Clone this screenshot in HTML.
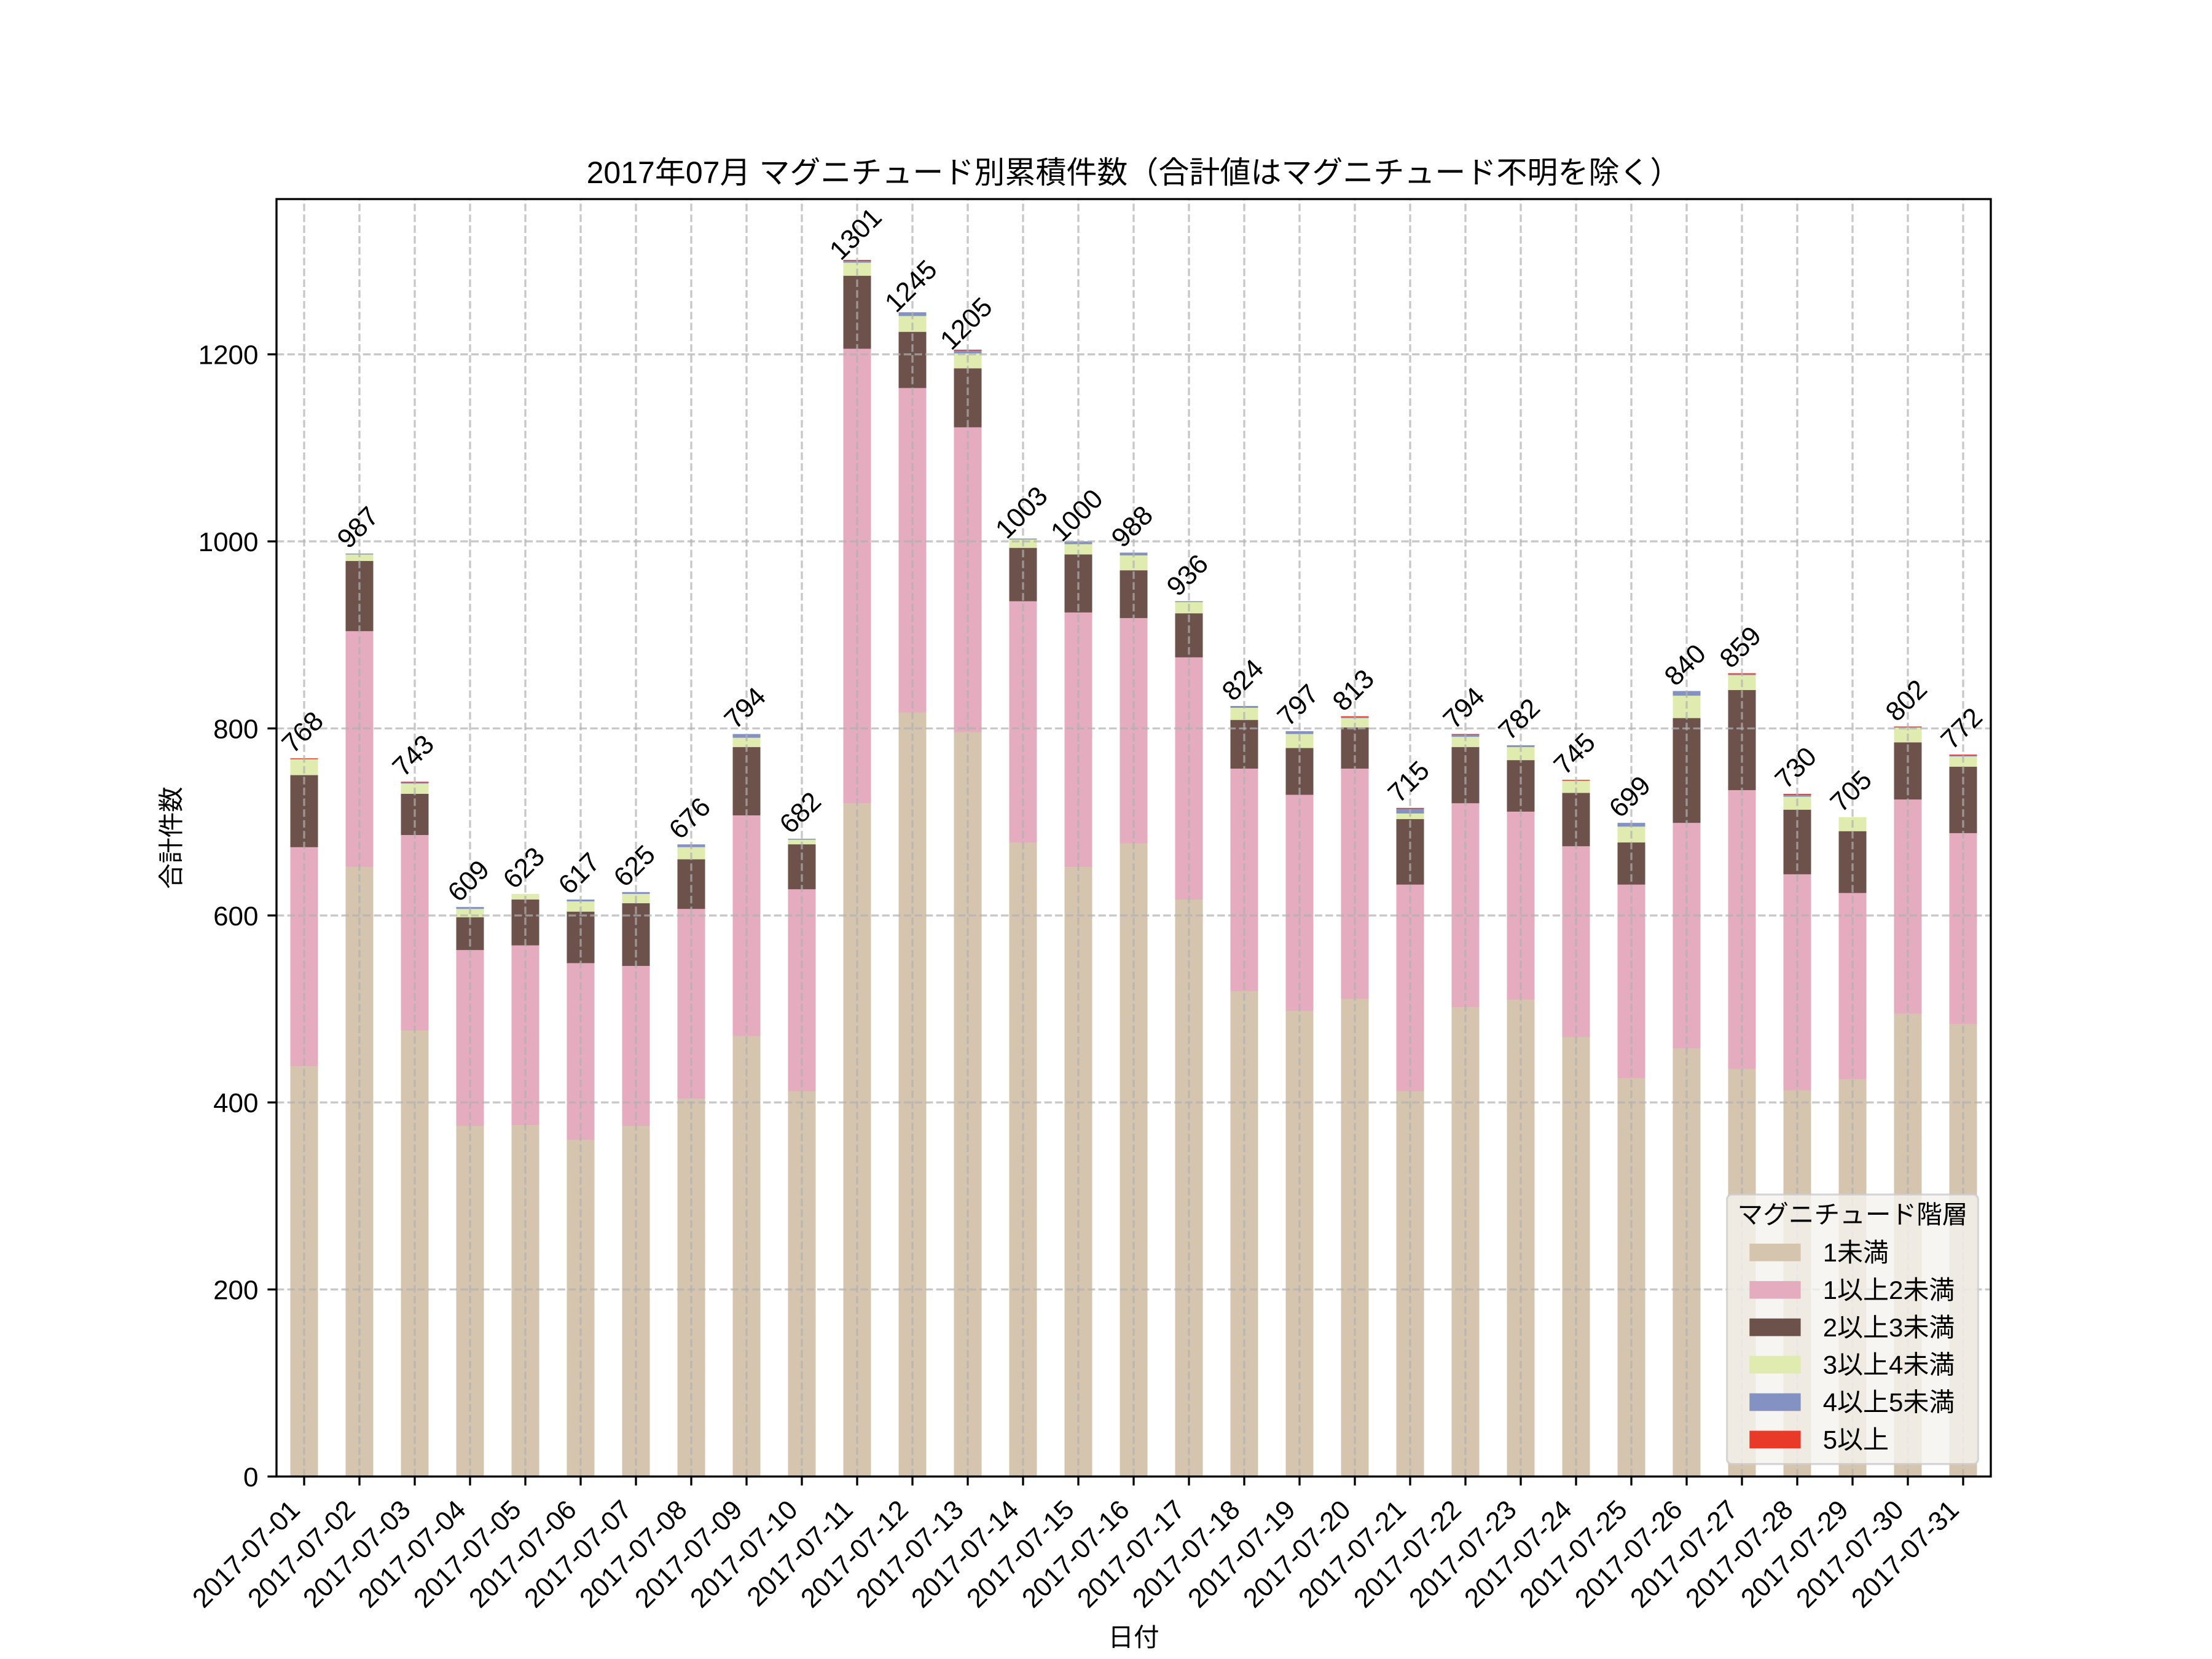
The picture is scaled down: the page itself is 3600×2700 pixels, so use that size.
<!DOCTYPE html>
<html>
<head>
<meta charset="utf-8">
<style>
html,body{margin:0;padding:0;background:#fff}
svg{display:block}
text{font-family:"Liberation Sans","Noto Sans CJK JP",sans-serif;fill:#000}
.r{fill:#e83929}.b{fill:#8491c3}.g{fill:#e0ebaf}.k{fill:#6d524c}.p{fill:#e5abbe}.t{fill:#d6c5ae}
.grid line{stroke:#b0b0b0;stroke-opacity:.7;stroke-width:3.33;stroke-dasharray:12.3 5.3}
.tick line{stroke:#000;stroke-width:3.33}
.num{font-size:44px}
.xl{font-size:44px}
</style>
</head>
<body>
<svg width="3600" height="2700" viewBox="0 0 3600 2700" xmlns="http://www.w3.org/2000/svg">
<rect x="0" y="0" width="3600" height="2700" fill="#fff"/>

<g transform="translate(0,2403) scale(1,-1.52191)">
<rect class="r" x="472.5" y="0" width="45" height="768"/><rect class="g" x="472.5" y="0" width="45" height="767"/><rect class="k" x="472.5" y="0" width="45" height="750"/><rect class="p" x="472.5" y="0" width="45" height="673"/><rect class="t" x="472.5" y="0" width="45" height="439"/>
<rect class="b" x="562.5" y="0" width="45" height="987"/><rect class="g" x="562.5" y="0" width="45" height="986"/><rect class="k" x="562.5" y="0" width="45" height="979"/><rect class="p" x="562.5" y="0" width="45" height="904"/><rect class="t" x="562.5" y="0" width="45" height="652"/>
<rect class="r" x="652.5" y="0" width="45" height="743"/><rect class="b" x="652.5" y="0" width="45" height="742"/><rect class="g" x="652.5" y="0" width="45" height="741"/><rect class="k" x="652.5" y="0" width="45" height="730"/><rect class="p" x="652.5" y="0" width="45" height="686"/><rect class="t" x="652.5" y="0" width="45" height="477"/>
<rect class="b" x="742.5" y="0" width="45" height="609"/><rect class="g" x="742.5" y="0" width="45" height="607"/><rect class="k" x="742.5" y="0" width="45" height="598"/><rect class="p" x="742.5" y="0" width="45" height="563"/><rect class="t" x="742.5" y="0" width="45" height="375"/>
<rect class="g" x="832.5" y="0" width="45" height="623"/><rect class="k" x="832.5" y="0" width="45" height="617"/><rect class="p" x="832.5" y="0" width="45" height="568"/><rect class="t" x="832.5" y="0" width="45" height="376"/>
<rect class="b" x="922.5" y="0" width="45" height="617"/><rect class="g" x="922.5" y="0" width="45" height="615"/><rect class="k" x="922.5" y="0" width="45" height="604"/><rect class="p" x="922.5" y="0" width="45" height="549"/><rect class="t" x="922.5" y="0" width="45" height="360"/>
<rect class="b" x="1012.5" y="0" width="45" height="625"/><rect class="g" x="1012.5" y="0" width="45" height="623"/><rect class="k" x="1012.5" y="0" width="45" height="613"/><rect class="p" x="1012.5" y="0" width="45" height="546"/><rect class="t" x="1012.5" y="0" width="45" height="375"/>
<rect class="b" x="1102.5" y="0" width="45" height="676"/><rect class="g" x="1102.5" y="0" width="45" height="673"/><rect class="k" x="1102.5" y="0" width="45" height="660"/><rect class="p" x="1102.5" y="0" width="45" height="607"/><rect class="t" x="1102.5" y="0" width="45" height="404"/>
<rect class="b" x="1192.5" y="0" width="45" height="794"/><rect class="g" x="1192.5" y="0" width="45" height="790"/><rect class="k" x="1192.5" y="0" width="45" height="780"/><rect class="p" x="1192.5" y="0" width="45" height="707"/><rect class="t" x="1192.5" y="0" width="45" height="471"/>
<rect class="b" x="1282.5" y="0" width="45" height="682"/><rect class="g" x="1282.5" y="0" width="45" height="681"/><rect class="k" x="1282.5" y="0" width="45" height="676"/><rect class="p" x="1282.5" y="0" width="45" height="628"/><rect class="t" x="1282.5" y="0" width="45" height="412"/>
<rect class="r" x="1372.5" y="0" width="45" height="1301"/><rect class="b" x="1372.5" y="0" width="45" height="1300"/><rect class="g" x="1372.5" y="0" width="45" height="1298"/><rect class="k" x="1372.5" y="0" width="45" height="1284"/><rect class="p" x="1372.5" y="0" width="45" height="1206"/><rect class="t" x="1372.5" y="0" width="45" height="720"/>
<rect class="b" x="1462.5" y="0" width="45" height="1245"/><rect class="g" x="1462.5" y="0" width="45" height="1241"/><rect class="k" x="1462.5" y="0" width="45" height="1224"/><rect class="p" x="1462.5" y="0" width="45" height="1164"/><rect class="t" x="1462.5" y="0" width="45" height="817"/>
<rect class="r" x="1552.5" y="0" width="45" height="1205"/><rect class="b" x="1552.5" y="0" width="45" height="1204"/><rect class="g" x="1552.5" y="0" width="45" height="1201"/><rect class="k" x="1552.5" y="0" width="45" height="1185"/><rect class="p" x="1552.5" y="0" width="45" height="1122"/><rect class="t" x="1552.5" y="0" width="45" height="796"/>
<rect class="b" x="1642.5" y="0" width="45" height="1003"/><rect class="g" x="1642.5" y="0" width="45" height="1002"/><rect class="k" x="1642.5" y="0" width="45" height="993"/><rect class="p" x="1642.5" y="0" width="45" height="936"/><rect class="t" x="1642.5" y="0" width="45" height="678"/>
<rect class="b" x="1732.5" y="0" width="45" height="1000"/><rect class="g" x="1732.5" y="0" width="45" height="997"/><rect class="k" x="1732.5" y="0" width="45" height="986"/><rect class="p" x="1732.5" y="0" width="45" height="924"/><rect class="t" x="1732.5" y="0" width="45" height="652"/>
<rect class="b" x="1822.5" y="0" width="45" height="988"/><rect class="g" x="1822.5" y="0" width="45" height="985"/><rect class="k" x="1822.5" y="0" width="45" height="969"/><rect class="p" x="1822.5" y="0" width="45" height="918"/><rect class="t" x="1822.5" y="0" width="45" height="677"/>
<rect class="b" x="1912.5" y="0" width="45" height="936"/><rect class="g" x="1912.5" y="0" width="45" height="935"/><rect class="k" x="1912.5" y="0" width="45" height="923"/><rect class="p" x="1912.5" y="0" width="45" height="876"/><rect class="t" x="1912.5" y="0" width="45" height="617"/>
<rect class="b" x="2002.5" y="0" width="45" height="824"/><rect class="g" x="2002.5" y="0" width="45" height="822"/><rect class="k" x="2002.5" y="0" width="45" height="809"/><rect class="p" x="2002.5" y="0" width="45" height="757"/><rect class="t" x="2002.5" y="0" width="45" height="519"/>
<rect class="b" x="2092.5" y="0" width="45" height="797"/><rect class="g" x="2092.5" y="0" width="45" height="794"/><rect class="k" x="2092.5" y="0" width="45" height="779"/><rect class="p" x="2092.5" y="0" width="45" height="729"/><rect class="t" x="2092.5" y="0" width="45" height="498"/>
<rect class="r" x="2182.5" y="0" width="45" height="813"/><rect class="b" x="2182.5" y="0" width="45" height="812"/><rect class="g" x="2182.5" y="0" width="45" height="811"/><rect class="k" x="2182.5" y="0" width="45" height="801"/><rect class="p" x="2182.5" y="0" width="45" height="757"/><rect class="t" x="2182.5" y="0" width="45" height="511"/>
<rect class="r" x="2272.5" y="0" width="45" height="715"/><rect class="b" x="2272.5" y="0" width="45" height="714"/><rect class="g" x="2272.5" y="0" width="45" height="709"/><rect class="k" x="2272.5" y="0" width="45" height="703"/><rect class="p" x="2272.5" y="0" width="45" height="633"/><rect class="t" x="2272.5" y="0" width="45" height="412"/>
<rect class="r" x="2362.5" y="0" width="45" height="794"/><rect class="b" x="2362.5" y="0" width="45" height="793"/><rect class="g" x="2362.5" y="0" width="45" height="791"/><rect class="k" x="2362.5" y="0" width="45" height="780"/><rect class="p" x="2362.5" y="0" width="45" height="720"/><rect class="t" x="2362.5" y="0" width="45" height="502"/>
<rect class="b" x="2452.5" y="0" width="45" height="782"/><rect class="g" x="2452.5" y="0" width="45" height="780"/><rect class="k" x="2452.5" y="0" width="45" height="766"/><rect class="p" x="2452.5" y="0" width="45" height="711"/><rect class="t" x="2452.5" y="0" width="45" height="510"/>
<rect class="r" x="2542.5" y="0" width="45" height="745"/><rect class="g" x="2542.5" y="0" width="45" height="744"/><rect class="k" x="2542.5" y="0" width="45" height="731"/><rect class="p" x="2542.5" y="0" width="45" height="674"/><rect class="t" x="2542.5" y="0" width="45" height="470"/>
<rect class="b" x="2632.5" y="0" width="45" height="699"/><rect class="g" x="2632.5" y="0" width="45" height="695"/><rect class="k" x="2632.5" y="0" width="45" height="678"/><rect class="p" x="2632.5" y="0" width="45" height="633"/><rect class="t" x="2632.5" y="0" width="45" height="426"/>
<rect class="b" x="2722.5" y="0" width="45" height="840"/><rect class="g" x="2722.5" y="0" width="45" height="835"/><rect class="k" x="2722.5" y="0" width="45" height="811"/><rect class="p" x="2722.5" y="0" width="45" height="699"/><rect class="t" x="2722.5" y="0" width="45" height="458"/>
<rect class="r" x="2812.5" y="0" width="45" height="859"/><rect class="b" x="2812.5" y="0" width="45" height="858"/><rect class="g" x="2812.5" y="0" width="45" height="857"/><rect class="k" x="2812.5" y="0" width="45" height="841"/><rect class="p" x="2812.5" y="0" width="45" height="734"/><rect class="t" x="2812.5" y="0" width="45" height="436"/>
<rect class="r" x="2902.5" y="0" width="45" height="730"/><rect class="b" x="2902.5" y="0" width="45" height="729"/><rect class="g" x="2902.5" y="0" width="45" height="727"/><rect class="k" x="2902.5" y="0" width="45" height="713"/><rect class="p" x="2902.5" y="0" width="45" height="644"/><rect class="t" x="2902.5" y="0" width="45" height="413"/>
<rect class="g" x="2992.5" y="0" width="45" height="705"/><rect class="k" x="2992.5" y="0" width="45" height="690"/><rect class="p" x="2992.5" y="0" width="45" height="624"/><rect class="t" x="2992.5" y="0" width="45" height="425"/>
<rect class="r" x="3082.5" y="0" width="45" height="802"/><rect class="g" x="3082.5" y="0" width="45" height="801"/><rect class="k" x="3082.5" y="0" width="45" height="785"/><rect class="p" x="3082.5" y="0" width="45" height="724"/><rect class="t" x="3082.5" y="0" width="45" height="495"/>
<rect class="r" x="3172.5" y="0" width="45" height="772"/><rect class="b" x="3172.5" y="0" width="45" height="771"/><rect class="g" x="3172.5" y="0" width="45" height="770"/><rect class="k" x="3172.5" y="0" width="45" height="759"/><rect class="p" x="3172.5" y="0" width="45" height="688"/><rect class="t" x="3172.5" y="0" width="45" height="484"/>
</g>

<g class="grid">
<line x1="450" x2="3240" y1="2098.6" y2="2098.6"/>
<line x1="450" x2="3240" y1="1794.2" y2="1794.2"/>
<line x1="450" x2="3240" y1="1489.9" y2="1489.9"/>
<line x1="450" x2="3240" y1="1185.5" y2="1185.5"/>
<line x1="450" x2="3240" y1="881.1" y2="881.1"/>
<line x1="450" x2="3240" y1="576.7" y2="576.7"/>
<line x1="495" x2="495" y1="2403" y2="324"/><line x1="585" x2="585" y1="2403" y2="324"/><line x1="675" x2="675" y1="2403" y2="324"/><line x1="765" x2="765" y1="2403" y2="324"/><line x1="855" x2="855" y1="2403" y2="324"/><line x1="945" x2="945" y1="2403" y2="324"/><line x1="1035" x2="1035" y1="2403" y2="324"/><line x1="1125" x2="1125" y1="2403" y2="324"/><line x1="1215" x2="1215" y1="2403" y2="324"/><line x1="1305" x2="1305" y1="2403" y2="324"/><line x1="1395" x2="1395" y1="2403" y2="324"/><line x1="1485" x2="1485" y1="2403" y2="324"/><line x1="1575" x2="1575" y1="2403" y2="324"/><line x1="1665" x2="1665" y1="2403" y2="324"/><line x1="1755" x2="1755" y1="2403" y2="324"/><line x1="1845" x2="1845" y1="2403" y2="324"/><line x1="1935" x2="1935" y1="2403" y2="324"/><line x1="2025" x2="2025" y1="2403" y2="324"/><line x1="2115" x2="2115" y1="2403" y2="324"/><line x1="2205" x2="2205" y1="2403" y2="324"/><line x1="2295" x2="2295" y1="2403" y2="324"/><line x1="2385" x2="2385" y1="2403" y2="324"/><line x1="2475" x2="2475" y1="2403" y2="324"/><line x1="2565" x2="2565" y1="2403" y2="324"/><line x1="2655" x2="2655" y1="2403" y2="324"/><line x1="2745" x2="2745" y1="2403" y2="324"/><line x1="2835" x2="2835" y1="2403" y2="324"/><line x1="2925" x2="2925" y1="2403" y2="324"/><line x1="3015" x2="3015" y1="2403" y2="324"/><line x1="3105" x2="3105" y1="2403" y2="324"/><line x1="3195" x2="3195" y1="2403" y2="324"/>
</g>

<g class="num" text-anchor="middle">
<text transform="translate(503,1202.2) rotate(-45)">768</text>
<text transform="translate(593,868.9) rotate(-45)">987</text>
<text transform="translate(683,1240.2) rotate(-45)">743</text>
<text transform="translate(773,1444.2) rotate(-45)">609</text>
<text transform="translate(863,1422.9) rotate(-45)">623</text>
<text transform="translate(953,1432) rotate(-45)">617</text>
<text transform="translate(1043,1419.8) rotate(-45)">625</text>
<text transform="translate(1133,1342.2) rotate(-45)">676</text>
<text transform="translate(1223,1162.6) rotate(-45)">794</text>
<text transform="translate(1313,1333.1) rotate(-45)">682</text>
<text transform="translate(1403,391) rotate(-45)">1301</text>
<text transform="translate(1493,476.2) rotate(-45)">1245</text>
<text transform="translate(1583,537.1) rotate(-45)">1205</text>
<text transform="translate(1673,844.5) rotate(-45)">1003</text>
<text transform="translate(1763,849.1) rotate(-45)">1000</text>
<text transform="translate(1853,867.4) rotate(-45)">988</text>
<text transform="translate(1943,946.5) rotate(-45)">936</text>
<text transform="translate(2033,1117) rotate(-45)">824</text>
<text transform="translate(2123,1158) rotate(-45)">797</text>
<text transform="translate(2213,1133.7) rotate(-45)">813</text>
<text transform="translate(2303,1282.8) rotate(-45)">715</text>
<text transform="translate(2393,1162.6) rotate(-45)">794</text>
<text transform="translate(2483,1180.9) rotate(-45)">782</text>
<text transform="translate(2573,1237.2) rotate(-45)">745</text>
<text transform="translate(2663,1307.2) rotate(-45)">699</text>
<text transform="translate(2753,1092.6) rotate(-45)">840</text>
<text transform="translate(2843,1063.7) rotate(-45)">859</text>
<text transform="translate(2933,1260) rotate(-45)">730</text>
<text transform="translate(3023,1298.1) rotate(-45)">705</text>
<text transform="translate(3113,1150.4) rotate(-45)">802</text>
<text transform="translate(3203,1196.1) rotate(-45)">772</text>
</g>

<rect x="450" y="324" width="2790" height="2079" fill="none" stroke="#000" stroke-width="3.33"/>

<g class="tick">
<line x1="435.4" x2="450" y1="2403" y2="2403"/><line x1="435.4" x2="450" y1="2098.6" y2="2098.6"/><line x1="435.4" x2="450" y1="1794.2" y2="1794.2"/><line x1="435.4" x2="450" y1="1489.9" y2="1489.9"/><line x1="435.4" x2="450" y1="1185.5" y2="1185.5"/><line x1="435.4" x2="450" y1="881.1" y2="881.1"/><line x1="435.4" x2="450" y1="576.7" y2="576.7"/>
<line x1="495" x2="495" y1="2403" y2="2417.6"/><line x1="585" x2="585" y1="2403" y2="2417.6"/><line x1="675" x2="675" y1="2403" y2="2417.6"/><line x1="765" x2="765" y1="2403" y2="2417.6"/><line x1="855" x2="855" y1="2403" y2="2417.6"/><line x1="945" x2="945" y1="2403" y2="2417.6"/><line x1="1035" x2="1035" y1="2403" y2="2417.6"/><line x1="1125" x2="1125" y1="2403" y2="2417.6"/><line x1="1215" x2="1215" y1="2403" y2="2417.6"/><line x1="1305" x2="1305" y1="2403" y2="2417.6"/><line x1="1395" x2="1395" y1="2403" y2="2417.6"/><line x1="1485" x2="1485" y1="2403" y2="2417.6"/><line x1="1575" x2="1575" y1="2403" y2="2417.6"/><line x1="1665" x2="1665" y1="2403" y2="2417.6"/><line x1="1755" x2="1755" y1="2403" y2="2417.6"/><line x1="1845" x2="1845" y1="2403" y2="2417.6"/><line x1="1935" x2="1935" y1="2403" y2="2417.6"/><line x1="2025" x2="2025" y1="2403" y2="2417.6"/><line x1="2115" x2="2115" y1="2403" y2="2417.6"/><line x1="2205" x2="2205" y1="2403" y2="2417.6"/><line x1="2295" x2="2295" y1="2403" y2="2417.6"/><line x1="2385" x2="2385" y1="2403" y2="2417.6"/><line x1="2475" x2="2475" y1="2403" y2="2417.6"/><line x1="2565" x2="2565" y1="2403" y2="2417.6"/><line x1="2655" x2="2655" y1="2403" y2="2417.6"/><line x1="2745" x2="2745" y1="2403" y2="2417.6"/><line x1="2835" x2="2835" y1="2403" y2="2417.6"/><line x1="2925" x2="2925" y1="2403" y2="2417.6"/><line x1="3015" x2="3015" y1="2403" y2="2417.6"/><line x1="3105" x2="3105" y1="2403" y2="2417.6"/><line x1="3195" x2="3195" y1="2403" y2="2417.6"/>
</g>

<g class="num" text-anchor="end">
<text x="420.5" y="2419">0</text>
<text x="420.5" y="2114.6">200</text>
<text x="420.5" y="1810.2">400</text>
<text x="420.5" y="1505.9">600</text>
<text x="420.5" y="1201.5">800</text>
<text x="420.5" y="897.1">1000</text>
<text x="420.5" y="592.7">1200</text>
</g>

<g class="xl" text-anchor="end">
<text transform="translate(490.7,2460) rotate(-45)">2017-07-01</text>
<text transform="translate(580.7,2460) rotate(-45)">2017-07-02</text>
<text transform="translate(670.7,2460) rotate(-45)">2017-07-03</text>
<text transform="translate(760.7,2460) rotate(-45)">2017-07-04</text>
<text transform="translate(850.7,2460) rotate(-45)">2017-07-05</text>
<text transform="translate(940.7,2460) rotate(-45)">2017-07-06</text>
<text transform="translate(1030.7,2460) rotate(-45)">2017-07-07</text>
<text transform="translate(1120.7,2460) rotate(-45)">2017-07-08</text>
<text transform="translate(1210.7,2460) rotate(-45)">2017-07-09</text>
<text transform="translate(1300.7,2460) rotate(-45)">2017-07-10</text>
<text transform="translate(1390.7,2460) rotate(-45)">2017-07-11</text>
<text transform="translate(1480.7,2460) rotate(-45)">2017-07-12</text>
<text transform="translate(1570.7,2460) rotate(-45)">2017-07-13</text>
<text transform="translate(1660.7,2460) rotate(-45)">2017-07-14</text>
<text transform="translate(1750.7,2460) rotate(-45)">2017-07-15</text>
<text transform="translate(1840.7,2460) rotate(-45)">2017-07-16</text>
<text transform="translate(1930.7,2460) rotate(-45)">2017-07-17</text>
<text transform="translate(2020.7,2460) rotate(-45)">2017-07-18</text>
<text transform="translate(2110.7,2460) rotate(-45)">2017-07-19</text>
<text transform="translate(2200.7,2460) rotate(-45)">2017-07-20</text>
<text transform="translate(2290.7,2460) rotate(-45)">2017-07-21</text>
<text transform="translate(2380.7,2460) rotate(-45)">2017-07-22</text>
<text transform="translate(2470.7,2460) rotate(-45)">2017-07-23</text>
<text transform="translate(2560.7,2460) rotate(-45)">2017-07-24</text>
<text transform="translate(2650.7,2460) rotate(-45)">2017-07-25</text>
<text transform="translate(2740.7,2460) rotate(-45)">2017-07-26</text>
<text transform="translate(2830.7,2460) rotate(-45)">2017-07-27</text>
<text transform="translate(2920.7,2460) rotate(-45)">2017-07-28</text>
<text transform="translate(3010.7,2460) rotate(-45)">2017-07-29</text>
<text transform="translate(3100.7,2460) rotate(-45)">2017-07-30</text>
<text transform="translate(3190.7,2460) rotate(-45)">2017-07-31</text>
</g>

<text x="1845" y="298" font-size="50" text-anchor="middle">2017年07月 マグニチュード別累積件数（合計値はマグニチュード不明を除く）</text>
<text transform="translate(293,1363.5) rotate(-90)" font-size="41.67" text-anchor="middle">合計件数</text>
<text x="1845" y="2679" font-size="41.67" text-anchor="middle">日付</text>

<rect x="2810.7" y="1944" width="408.6" height="438.7" rx="8" ry="8" fill="#f5f3ef" fill-opacity="0.8" stroke="#cccccc" stroke-opacity="0.8" stroke-width="3.3"/>
<text x="3015" y="1991" font-size="41.67" text-anchor="middle">マグニチュード階層</text>
<rect class="t" x="2847.3" y="2024" width="83.3" height="28.7"/>
<rect class="p" x="2847.3" y="2084.9" width="83.3" height="28.7"/>
<rect class="k" x="2847.3" y="2145.8" width="83.3" height="28.7"/>
<rect class="g" x="2847.3" y="2206.7" width="83.3" height="28.7"/>
<rect class="b" x="2847.3" y="2267.6" width="83.3" height="28.7"/>
<rect class="r" x="2847.3" y="2328.5" width="83.3" height="28.7"/>
<g font-size="42">
<text x="2966.7" y="2053">1未満</text>
<text x="2966.7" y="2113.9">1以上2未満</text>
<text x="2966.7" y="2174.8">2以上3未満</text>
<text x="2966.7" y="2235.7">3以上4未満</text>
<text x="2966.7" y="2296.6">4以上5未満</text>
<text x="2966.7" y="2357.5">5以上</text>
</g>
</svg>
</body>
</html>
